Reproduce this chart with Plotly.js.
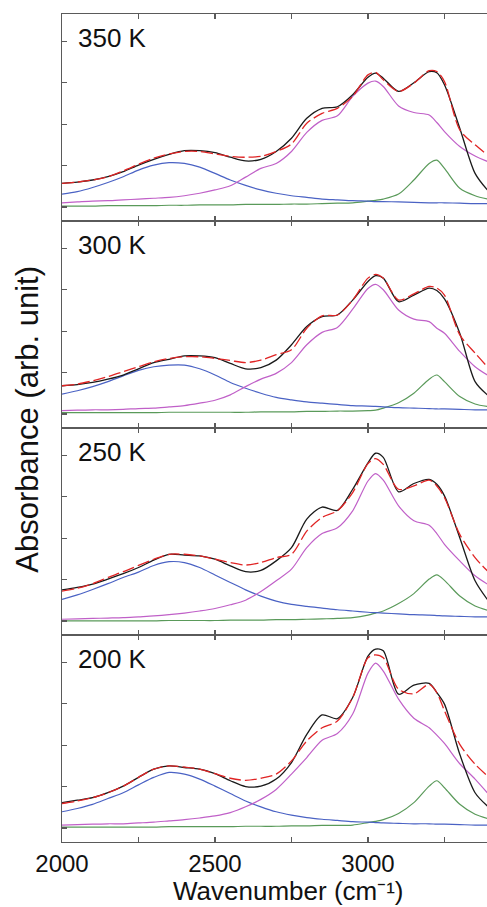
<!DOCTYPE html>
<html><head><meta charset="utf-8">
<script src="https://cdn.plot.ly/plotly-3.0.1.min.js"></script>
<style>html,body{margin:0;padding:0;background:#fff;overflow:hidden}#chart{width:487px;height:907px}</style>
</head><body><div id="chart"></div>
<script>
const wavenumber = [2000,2050,2100,2150,2200,2250,2300,2350,2400,2450,2500,2550,2600,2650,2700,2750,2800,2850,2900,2950,3000,3025,3050,3100,3150,3200,3225,3250,3300,3350,3390];

const panelLabels = ["350 K","300 K","250 K","200 K"];
const xTickVals = [2000,2500,3000];
const xTickText = ["2000","2500","3000"];
const xMinorTickVals = [2250,2750,3250];
const yTickVals = [0,1,2,3,4];

// 350 K
const measured350 = [0.57,0.60,0.65,0.73,0.85,1.01,1.15,1.27,1.36,1.36,1.31,1.20,1.11,1.15,1.34,1.66,2.14,2.38,2.42,2.71,3.13,3.23,3.11,2.79,3.00,3.27,3.24,2.95,1.90,0.81,0.41];
const fit350      = [0.57,0.60,0.65,0.73,0.87,1.03,1.18,1.28,1.34,1.34,1.28,1.22,1.20,1.22,1.34,1.52,2.02,2.26,2.38,2.67,3.19,3.25,3.07,2.79,2.99,3.29,3.27,3.03,1.86,1.50,1.26];
const blue350     = [0.31,0.37,0.47,0.59,0.73,0.89,1.01,1.07,1.05,0.96,0.81,0.65,0.52,0.41,0.33,0.27,0.23,0.19,0.17,0.15,0.14,0.13,0.13,0.12,0.11,0.10,0.10,0.10,0.09,0.08,0.08];
const magenta350  = [0.10,0.12,0.14,0.15,0.17,0.19,0.21,0.23,0.27,0.33,0.41,0.51,0.72,0.93,1.05,1.34,1.80,2.09,2.20,2.67,2.99,3.04,2.91,2.44,2.28,2.22,2.04,1.82,1.46,1.23,1.10];
const green350    = [0.02,0.02,0.02,0.03,0.03,0.03,0.03,0.04,0.04,0.05,0.05,0.05,0.06,0.06,0.06,0.07,0.07,0.08,0.09,0.10,0.14,0.16,0.19,0.31,0.65,1.05,1.13,0.93,0.45,0.27,0.19];

// 300 K
const measured300 = [0.68,0.71,0.76,0.84,0.94,1.09,1.24,1.32,1.40,1.40,1.36,1.22,1.09,1.12,1.30,1.67,2.11,2.35,2.39,2.75,3.20,3.34,3.28,2.71,2.87,3.04,2.98,2.78,1.95,0.78,0.46];
const fit300      = [0.68,0.72,0.80,0.90,1.02,1.14,1.26,1.34,1.38,1.38,1.34,1.29,1.24,1.30,1.43,1.55,2.07,2.37,2.39,2.75,3.28,3.37,3.28,2.75,2.90,3.08,3.04,2.87,1.91,1.47,1.14];
const blue300     = [0.48,0.56,0.66,0.78,0.92,1.05,1.14,1.18,1.18,1.09,0.94,0.76,0.62,0.50,0.40,0.34,0.29,0.26,0.23,0.20,0.19,0.18,0.17,0.15,0.14,0.13,0.12,0.12,0.11,0.10,0.10];
const magenta300  = [0.08,0.09,0.10,0.10,0.11,0.13,0.14,0.17,0.20,0.26,0.33,0.46,0.66,0.84,0.98,1.24,1.67,1.97,2.09,2.53,3.03,3.13,3.00,2.51,2.29,2.23,2.07,1.95,1.51,1.14,0.94];
const green300    = [0.03,0.03,0.03,0.03,0.03,0.03,0.03,0.04,0.04,0.04,0.04,0.04,0.04,0.05,0.05,0.05,0.06,0.06,0.07,0.07,0.08,0.09,0.14,0.27,0.50,0.84,0.94,0.78,0.42,0.24,0.18];

// 250 K
const measured250 = [0.75,0.81,0.89,1.01,1.14,1.29,1.47,1.61,1.59,1.57,1.49,1.33,1.19,1.22,1.45,1.77,2.46,2.75,2.67,3.18,3.82,4.05,3.95,3.12,3.32,3.42,3.30,3.02,2.01,0.97,0.52];
const fit250      = [0.72,0.79,0.90,1.05,1.19,1.34,1.49,1.61,1.61,1.57,1.49,1.41,1.35,1.41,1.53,1.61,2.17,2.50,2.66,3.10,3.80,3.92,3.78,3.18,3.26,3.40,3.26,2.98,2.09,1.53,1.21];
const blue250     = [0.52,0.63,0.76,0.90,1.05,1.18,1.34,1.43,1.41,1.29,1.11,0.93,0.75,0.60,0.48,0.40,0.35,0.31,0.27,0.24,0.21,0.20,0.19,0.17,0.15,0.14,0.13,0.12,0.11,0.10,0.10];
const magenta250  = [0.04,0.05,0.06,0.07,0.08,0.10,0.12,0.15,0.19,0.24,0.30,0.39,0.50,0.71,0.97,1.25,1.77,2.11,2.25,2.66,3.38,3.56,3.40,2.78,2.42,2.31,2.11,1.85,1.45,1.09,0.89];
const green250    = [0.00,0.00,0.00,0.00,0.00,0.00,0.00,0.01,0.01,0.01,0.01,0.02,0.02,0.02,0.03,0.03,0.04,0.05,0.06,0.08,0.14,0.19,0.24,0.42,0.66,1.01,1.11,0.98,0.60,0.36,0.26];

// 200 K
const measured200 = [0.61,0.67,0.73,0.85,1.01,1.22,1.42,1.50,1.46,1.42,1.31,1.14,1.00,1.01,1.18,1.58,2.26,2.73,2.64,3.15,4.15,4.32,4.28,3.23,3.45,3.49,3.27,2.99,1.78,0.85,0.53];
const fit200      = [0.59,0.65,0.73,0.85,1.01,1.22,1.42,1.50,1.47,1.42,1.31,1.20,1.15,1.20,1.30,1.62,2.10,2.42,2.58,3.15,4.11,4.18,4.11,3.35,3.24,3.47,3.27,2.83,2.02,1.54,1.26];
const blue200     = [0.39,0.47,0.57,0.71,0.85,1.04,1.22,1.34,1.30,1.18,1.01,0.83,0.65,0.51,0.39,0.31,0.25,0.21,0.18,0.15,0.14,0.13,0.12,0.11,0.10,0.10,0.09,0.09,0.08,0.07,0.07];
const magenta200  = [0.07,0.08,0.09,0.10,0.10,0.12,0.14,0.17,0.20,0.24,0.29,0.37,0.51,0.69,0.93,1.30,1.70,2.12,2.28,2.75,3.74,3.98,3.79,3.11,2.65,2.42,2.24,2.04,1.55,1.18,0.85];
const green200    = [0.02,0.02,0.02,0.02,0.02,0.02,0.02,0.03,0.03,0.03,0.03,0.03,0.04,0.04,0.04,0.05,0.05,0.06,0.06,0.07,0.13,0.16,0.20,0.35,0.61,1.01,1.14,0.97,0.57,0.33,0.23];

const panels = [
  {measured: measured350, fit: fit350, blue: blue350, magenta: magenta350, green: green350},
  {measured: measured300, fit: fit300, blue: blue300, magenta: magenta300, green: green300},
  {measured: measured250, fit: fit250, blue: blue250, magenta: magenta250, green: green250},
  {measured: measured200, fit: fit200, blue: blue200, magenta: magenta200, green: green200}
];

const axisColor = '#5a5a5a';
const font = 'Liberation Sans, Arial, sans-serif';
const traces = [];
const layout = {
  width: 487, height: 907,
  margin: {l: 62, r: 0, t: 14, b: 65},
  paper_bgcolor: '#ffffff', plot_bgcolor: '#ffffff',
  showlegend: false,
  font: {family: font, color: '#111111'},
  annotations: []
};

panels.forEach((p, i) => {
  const s = i === 0 ? '' : String(i + 1);
  const xa = 'x' + s, ya = 'y' + s;
  const comps = [
    {y: p.green, color: '#5a9a5a', dash: 'solid', w: 1.2},
    {y: p.blue, color: '#4a62c4', dash: 'solid', w: 1.2},
    {y: p.magenta, color: '#c060c8', dash: 'solid', w: 1.2},
    {y: p.measured, color: '#1a1a1a', dash: 'solid', w: 1.3},
    {y: p.fit, color: '#e02424', dash: '12px,4px', w: 1.3}
  ];
  comps.forEach(c => traces.push({
    type: 'scatter', mode: 'lines', x: wavenumber, y: c.y,
    xaxis: xa, yaxis: ya, hoverinfo: 'skip',
    line: {color: c.color, width: c.w, dash: c.dash, shape: 'spline', smoothing: 0.8}
  }));
  const top = 1 - i * 0.25, bot = 1 - (i + 1) * 0.25;
  layout['xaxis' + s] = {
    domain: [0, 1], anchor: ya, range: [2000, 3389],
    tickmode: 'array', tickvals: xTickVals, ticktext: xTickText,
    showticklabels: i === 3, ticks: 'inside', ticklen: 5, tickwidth: 1.2, tickcolor: axisColor,
    minor: {tickmode: 'array', tickvals: xMinorTickVals, ticks: 'inside', ticklen: 5, tickwidth: 1.2, tickcolor: axisColor, showgrid: false},
    showline: true, linecolor: axisColor, linewidth: 1.2, mirror: 'allticks',
    showgrid: false, zeroline: false,
    tickfont: {family: font, size: 24, color: '#111111'}
  };
  if (i > 0) layout['xaxis' + s].matches = 'x';
  layout['yaxis' + s] = {
    domain: [bot, top], anchor: xa, range: [-0.34, 4.66],
    tickmode: 'array', tickvals: yTickVals, showticklabels: false,
    ticks: 'inside', ticklen: 5, tickwidth: 1.2, tickcolor: axisColor,
    showline: true, linecolor: axisColor, linewidth: 1.3, mirror: false,
    showgrid: false, zeroline: false
  };
  layout.annotations.push({
    xref: 'paper', yref: 'paper', x: 0.033, y: (804 - 207 * i) / 828,
    xanchor: 'left', yanchor: 'middle', showarrow: false,
    text: panelLabels[i], font: {family: font, size: 26, color: '#111111'}
  });
});

layout.annotations.push({
  xref: 'paper', yref: 'paper', x: 0.532, y: -0.0785, xanchor: 'center', yanchor: 'bottom',
  showarrow: false, text: 'Wavenumber (cm⁻¹)', borderpad: 0,
  font: {family: font, size: 26, color: '#111111'}
});
layout.annotations.push({
  xref: 'paper', yref: 'paper', x: -0.08, y: 0.51, xanchor: 'center', yanchor: 'middle',
  showarrow: false, textangle: -90, text: 'Absorbance (arb. unit)',
  font: {family: font, size: 31, color: '#111111'}
});

Plotly.newPlot('chart', traces, layout, {staticPlot: true, displayModeBar: false});
</script></body></html>
